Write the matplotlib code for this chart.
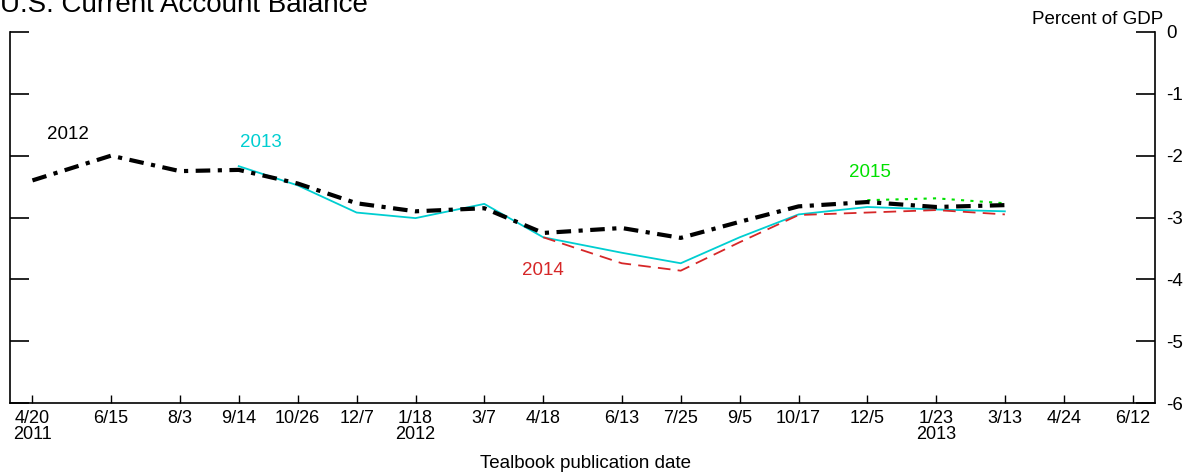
import matplotlib
matplotlib.use("Agg")
import matplotlib.pyplot as plt
import numpy as np
from datetime import datetime

plt.rcParams['font.family'] = ['Liberation Sans', 'DejaVu Sans']

# Tealbook publication dates (x axis ticks)
tick_dates = ["2011-04-20", "2011-06-15", "2011-08-03", "2011-09-14", "2011-10-26",
              "2011-12-07", "2012-01-18", "2012-03-07", "2012-04-18", "2012-06-13",
              "2012-07-25", "2012-09-05", "2012-10-17", "2012-12-05", "2013-01-23",
              "2013-03-13", "2013-04-24", "2013-06-12"]
tick_labels = ["4/20\n2011", "6/15", "8/3", "9/14", "10/26", "12/7", "1/18\n2012", "3/7",
               "4/18", "6/13", "7/25", "9/5", "10/17", "12/5", "1/23\n2013", "3/13",
               "4/24", "6/12"]

# forecast of current account balance for each year, percent of GDP
dates_2012 = tick_dates[0:16]
vals_2012 = [-2.40, -2.00, -2.25, -2.23, -2.45, -2.77, -2.90, -2.85,
             -3.25, -3.17, -3.33, -3.07, -2.82, -2.75, -2.83, -2.80]

dates_2013 = tick_dates[3:16]
vals_2013 = [-2.17, -2.48, -2.92, -3.01, -2.78, -3.32, -3.57, -3.74,
             -3.32, -2.95, -2.83, -2.87, -2.90]

dates_2014 = tick_dates[8:16]
vals_2014 = [-3.32, -3.74, -3.86, -3.40, -2.96, -2.92, -2.88, -2.95]

dates_2015 = tick_dates[13:16]
vals_2015 = [-2.72, -2.69, -2.77]


def todt(lst):
    return [datetime.strptime(d, "%Y-%m-%d") for d in lst]


fig = plt.figure(figsize=(11.88, 4.75), dpi=100)
ax = fig.add_axes([10/1188, 1 - 403/475, 1145/1188, 371/475])

ax.plot(todt(dates_2013), vals_2013, color='#00CED1', lw=1.3)
ax.plot(todt(dates_2014), vals_2014, color='#D62728', lw=1.3, linestyle=(0, (7, 4)))
ax.plot(todt(dates_2015), vals_2015, color='#00E000', lw=1.5, linestyle=(0, (1.5, 3)))
ax.plot(todt(dates_2012), vals_2012, color='black', lw=3.0, linestyle=(0, (3.5, 1.8, 1, 1.8)))

fs = 13.5
ax.text(datetime(2011, 5, 15), -1.66, "2012", color='black', fontsize=fs, ha='center', va='center')
ax.text(datetime(2011, 9, 30), -1.79, "2013", color='#00CED1', fontsize=fs, ha='center', va='center')
ax.text(datetime(2012, 4, 18), -3.85, "2014", color='#D62728', fontsize=fs, ha='center', va='center')
ax.text(datetime(2012, 12, 7), -2.27, "2015", color='#00E000', fontsize=fs, ha='center', va='center')

ax.set_xlim(datetime(2011, 4, 4), datetime(2013, 6, 28))
ax.set_ylim(-6, 0)

ax.spines['top'].set_visible(False)
for s in ['left', 'right', 'bottom']:
    ax.spines[s].set_linewidth(1.2)

ax.set_xticks(todt(tick_dates))
ax.set_xticklabels(tick_labels, fontsize=13, linespacing=0.95)
ax.tick_params(axis='x', direction='in', length=6, width=1, pad=5)

ax.set_yticks([-6, -5, -4, -3, -2, -1, 0])
ax.set_yticklabels(['-6', '-5', '-4', '-3', '-2', '-1', '0'], fontsize=fs)
ax.set_yticks([0], minor=True)
ax.tick_params(axis='y', which='major', direction='in', length=14, width=1.2,
               left=True, right=True, labelleft=False, labelright=True, pad=8)
ax.tick_params(axis='y', which='minor', direction='in', length=27, width=1.2,
               left=True, right=True, labelleft=False, labelright=False)

fig.text(1163/1188, 1 - 20/475, "Percent of GDP", ha='right', va='center', fontsize=fs)
fig.text(585/1188, 1 - 464/475, "Tealbook publication date", ha='center', va='center', fontsize=fs)
fig.text(0, 1 - 12/475, "U.S. Current Account Balance", ha='left', va='baseline', fontsize=20)

fig.savefig("out.png", dpi=100)
